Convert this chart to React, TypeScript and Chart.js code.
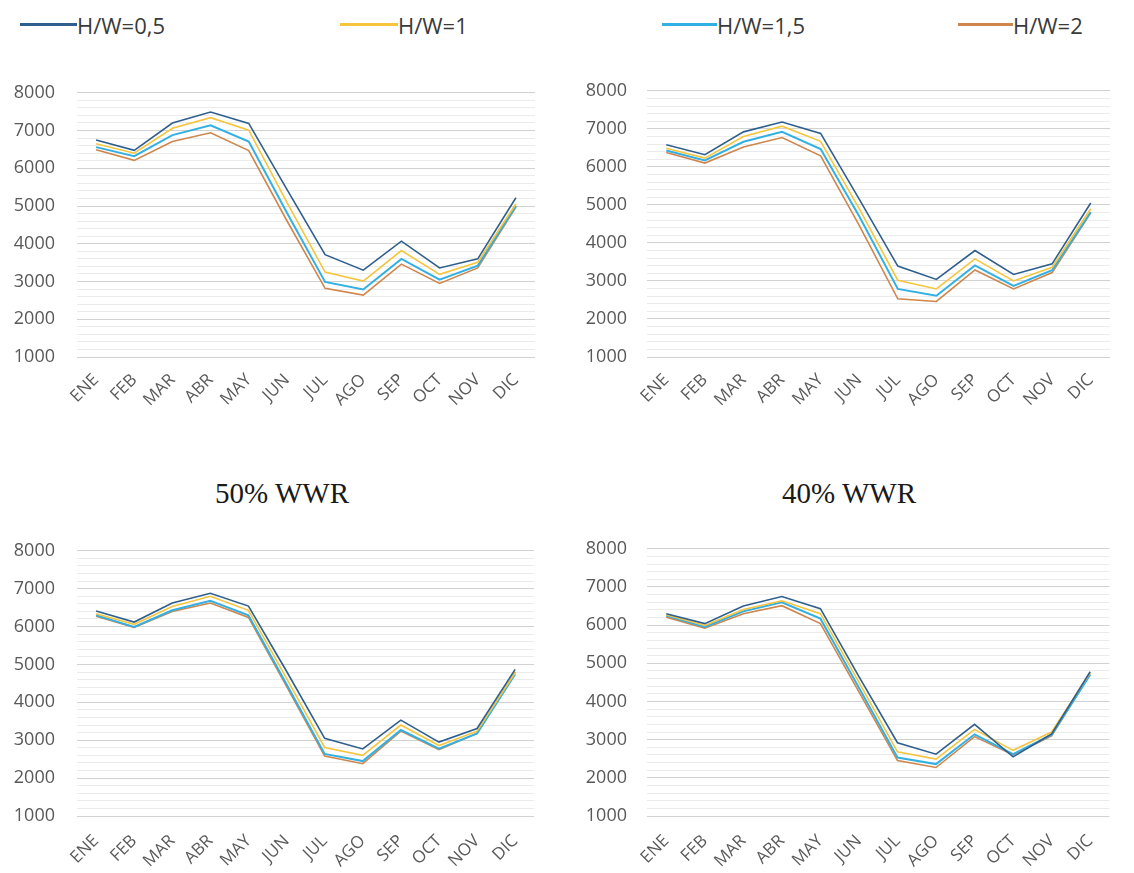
import React, { useEffect, useRef } from "react";
import { Chart, registerables } from "chart.js";

Chart.register(...registerables);

const months = ["ENE", "FEB", "MAR", "ABR", "MAY", "JUN", "JUL", "AGO", "SEP", "OCT", "NOV", "DIC"];
const seriesNames = ["H/W=0,5", "H/W=1", "H/W=1,5", "H/W=2"];
const seriesColors = ["#2F5F8E", "#F6C53E", "#33B0E3", "#CF864C"];
const yTickLabels = [1000, 2000, 3000, 4000, 5000, 6000, 7000, 8000];

// Top-left panel
const a_hw05 = [6750, 6475, 7200, 7490, 7190, 5440, 3710, 3300, 4070, 3360, 3600, 5220];
const a_hw1 = [6650, 6400, 7060, 7340, 7010, 5100, 3250, 3010, 3820, 3190, 3510, 5060];
const a_hw15 = [6560, 6320, 6880, 7140, 6710, 4820, 2990, 2790, 3600, 3050, 3420, 5000];
const a_hw2 = [6490, 6210, 6710, 6940, 6470, 4610, 2820, 2640, 3460, 2950, 3360, 4970];

// Top-right panel
const b_hw05 = [6580, 6320, 6920, 7180, 6880, 5150, 3390, 3040, 3800, 3170, 3450, 5050];
const b_hw1 = [6490, 6230, 6800, 7070, 6670, 4900, 3020, 2790, 3580, 3000, 3360, 4900];
const b_hw15 = [6430, 6170, 6660, 6920, 6470, 4700, 2790, 2610, 3410, 2870, 3280, 4810];
const b_hw2 = [6380, 6100, 6520, 6770, 6290, 4460, 2530, 2460, 3290, 2790, 3220, 4790];

// Bottom-left panel: 50% WWR
const c_hw05 = [6410, 6120, 6620, 6880, 6540, 4820, 3050, 2770, 3530, 2950, 3310, 4870];
const c_hw1 = [6340, 6060, 6530, 6800, 6430, 4630, 2810, 2600, 3400, 2860, 3240, 4780];
const c_hw15 = [6300, 5990, 6430, 6680, 6300, 4480, 2640, 2450, 3270, 2780, 3180, 4740];
const c_hw2 = [6270, 5980, 6400, 6620, 6240, 4420, 2580, 2380, 3240, 2750, 3180, 4800];

// Bottom-right panel: 40% WWR
const d_hw05 = [6300, 6040, 6500, 6750, 6430, 4650, 2920, 2620, 3400, 2550, 3150, 4780];
const d_hw1 = [6270, 5990, 6410, 6640, 6300, 4500, 2680, 2490, 3270, 2720, 3200, 4750];
const d_hw15 = [6250, 5950, 6360, 6600, 6170, 4360, 2530, 2360, 3140, 2620, 3130, 4700];
const d_hw2 = [6210, 5920, 6300, 6510, 6040, 4250, 2450, 2270, 3080, 2600, 3100, 4720];

const titleC = "50% WWR";
const titleD = "40% WWR";

type PanelProps = {
  series: number[][];
  left: number;
  top: number;
  width: number;
  height: number;
  yWidth: number;
  xHeight: number;
  padTop: number;
  padRight: number;
  yPad: number;
  xPad: number;
};

function Panel(p: PanelProps) {
  const ref = useRef<HTMLCanvasElement | null>(null);
  useEffect(() => {
    if (!ref.current) return;
    const chart = new Chart(ref.current, {
      type: "line",
      data: {
        labels: months,
        datasets: p.series.map((s, i) => ({
          label: seriesNames[i],
          data: s,
          borderColor: seriesColors[i],
          backgroundColor: seriesColors[i],
          borderWidth: i === 2 ? 2 : 1.6,
          pointRadius: 0,
          tension: 0,
          fill: false,
        })),
      },
      options: {
        animation: false,
        responsive: false,
        devicePixelRatio: 1,
        layout: { padding: { top: p.padTop, right: p.padRight, left: 0, bottom: 0 } },
        plugins: { legend: { display: false }, title: { display: false }, tooltip: { enabled: false } },
        scales: {
          x: {
            type: "category",
            offset: true,
            grid: { display: false, drawTicks: false },
            border: { display: false },
            ticks: {
              minRotation: 45,
              maxRotation: 45,
              autoSkip: false,
              padding: p.xPad,
              color: "#595959",
              font: { family: "'Open Sans', sans-serif", size: 17 },
            },
            afterFit: (s: any) => {
              s.height = p.xHeight;
            },
          },
          y: {
            type: "linear",
            min: 1000,
            max: 8000,
            grid: {
              drawTicks: false,
              color: (ctx: any) =>
                ctx.tick && ctx.tick.value % 1000 === 0 ? "#d2d2d2" : "#ebebeb",
              lineWidth: 1,
            },
            border: { display: false },
            ticks: {
              stepSize: 200,
              autoSkip: false,
              maxTicksLimit: 100,
              padding: p.yPad,
              color: "#595959",
              font: { family: "'Open Sans', sans-serif", size: 18 },
              callback: (v: any) => (yTickLabels.includes(Number(v)) ? String(v) : ""),
            },
            afterFit: (s: any) => {
              s.width = p.yWidth;
            },
          },
        },
      } as any,
    });
    return () => chart.destroy();
  }, []);
  return (
    <div style={{ position: "absolute", left: p.left, top: p.top, width: p.width, height: p.height }}>
      <canvas ref={ref} width={p.width} height={p.height} style={{ width: p.width, height: p.height }} />
    </div>
  );
}

const legendItems = [
  { lineLeft: 20, lineWidth: 57, textLeft: 77 },
  { lineLeft: 340, lineWidth: 58, textLeft: 398 },
  { lineLeft: 662, lineWidth: 55, textLeft: 717 },
  { lineLeft: 958, lineWidth: 55, textLeft: 1013 },
];

const titleStyle: React.CSSProperties = {
  position: "absolute",
  top: 473,
  width: 220,
  textAlign: "center",
  fontFamily: "'Liberation Serif', serif",
  fontSize: 29,
  lineHeight: "40px",
  color: "#1a1a1a",
};

export default function App() {
  return (
    <div style={{ position: "absolute", left: 0, top: 0, width: 1134, height: 873, background: "#fff", overflow: "hidden" }}>
      {legendItems.map((it, i) => (
        <React.Fragment key={i}>
          <div
            style={{
              position: "absolute",
              left: it.lineLeft,
              top: 23,
              width: it.lineWidth,
              height: 3,
              background: seriesColors[i],
            }}
          />
          <div
            style={{
              position: "absolute",
              left: it.textLeft,
              top: 9,
              height: 32,
              lineHeight: "32px",
              fontFamily: "'Open Sans', sans-serif",
              fontSize: 22,
              color: "#3a3a3a",
              whiteSpace: "nowrap",
            }}
          >
            {seriesNames[i]}
          </div>
        </React.Fragment>
      ))}
      <Panel series={[a_hw05, a_hw1, a_hw15, a_hw2]} left={0} top={60} width={545} height={350} yWidth={77} xHeight={53} padTop={28} padRight={10} yPad={22} xPad={13} />
      <Panel series={[b_hw05, b_hw1, b_hw15, b_hw2]} left={560} top={60} width={560} height={350} yWidth={87} xHeight={53} padTop={27} padRight={10} yPad={20} xPad={13} />
      <div style={{ ...titleStyle, left: 172 }}>{titleC}</div>
      <div style={{ ...titleStyle, left: 739 }}>{titleD}</div>
      <Panel series={[c_hw05, c_hw1, c_hw15, c_hw2]} left={0} top={518} width={545} height={355} yWidth={77} xHeight={57} padTop={28} padRight={10} yPad={22} xPad={15} />
      <Panel series={[d_hw05, d_hw1, d_hw15, d_hw2]} left={560} top={518} width={560} height={355} yWidth={87} xHeight={57} padTop={28} padRight={10} yPad={20} xPad={15} />
    </div>
  );
}
